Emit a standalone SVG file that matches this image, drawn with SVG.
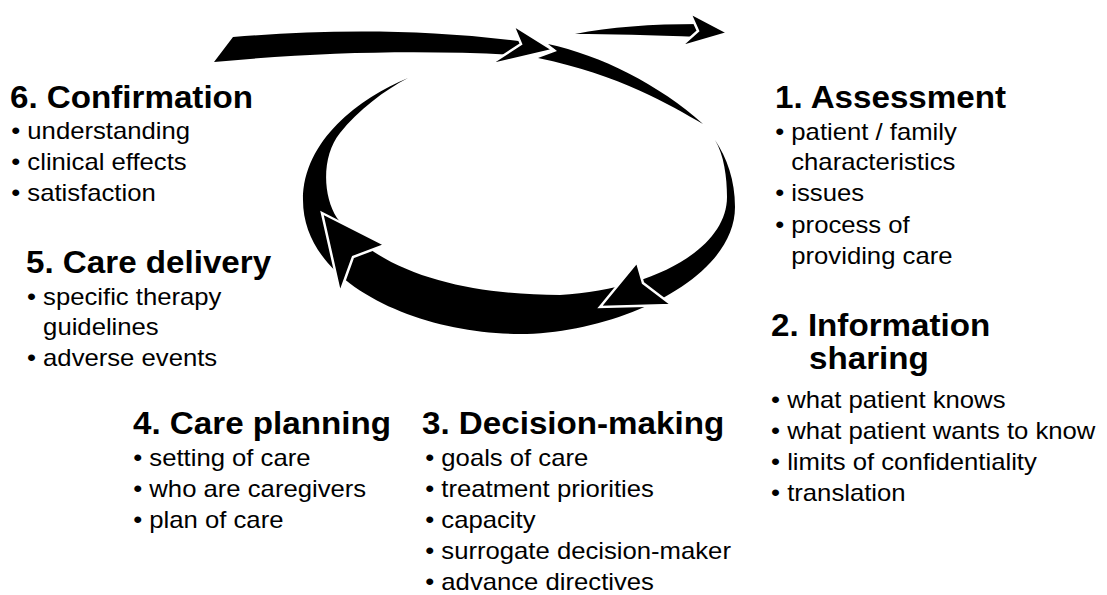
<svg xmlns="http://www.w3.org/2000/svg" width="1107" height="595" viewBox="0 0 1107 595">
<style>
.t{font-family:"Liberation Sans",Arial,sans-serif;font-weight:bold;font-size:31px;fill:#000}
.i{font-family:"Liberation Sans",Arial,sans-serif;font-size:24px;fill:#000}
.band{fill:#000}
.head{fill:#000;stroke:#fff;stroke-width:2.5;stroke-linejoin:miter}
</style>
<rect width="1107" height="595" fill="#fff"/>
<g id="connectors">
<path class="band" d="M 548,44 C 600,55 660,85 703,124 C 670,105 620,75 538,58 L 557,51 Z"/>
<path class="band" d="M 214,62 L 233,37 C 320,30 420,28 525,42 L 515,55 C 420,50 320,52 214,62 Z"/>
<path class="head" d="M 513,25 L 553,50 L 489,65 L 521,44 Z"/>
<path class="band" d="M 575,34 C 610,27 650,24 700,24 L 700,37 C 650,35 610,34 575,34 Z"/>
<path class="head" d="M 690,13 L 728,33 L 680,47 L 698,31 Z"/>
<path class="band" d="M 408,78 C 360,98 303,140 303,200 C 303,285 420,334 520,334 C 615,334 735,280 735,207 C 735,180 727,158 715,140 C 724,155 727,177 727,197 C 727,250 650,290 560,295 C 470,295 380,275 337,218 C 322,195 322,155 340,133 C 358,110 385,90 408,78 Z"/>
<path class="head" d="M 322,213 L 385,245 L 353,257 L 340,293 Z"/>
<path class="head" d="M 600,307 L 637,262 L 643,283 L 672,305 Z"/>
</g>
<g id="step6" transform="scale(1.07,1)">
<text class="t" x="9.3" y="108">6. Confirmation</text>
<text class="i" x="10.5" y="139">• understanding</text>
<text class="i" x="10.5" y="170">• clinical effects</text>
<text class="i" x="10.5" y="201">• satisfaction</text>
</g>
<g id="step5" transform="scale(1.07,1)">
<text class="t" x="24.3" y="273">5. Care delivery</text>
<text class="i" x="25.2" y="305">• specific therapy</text>
<text class="i" x="40.3" y="335">guidelines</text>
<text class="i" x="25.2" y="366">• adverse events</text>
</g>
<g id="step1" transform="scale(1.07,1)">
<text class="t" x="724.3" y="108">1. Assessment</text>
<text class="i" x="724.5" y="140">• patient / family</text>
<text class="i" x="739.5" y="170">characteristics</text>
<text class="i" x="724.5" y="201">• issues</text>
<text class="i" x="724.5" y="233">• process of</text>
<text class="i" x="739.5" y="264">providing care</text>
</g>
<g id="step2" transform="scale(1.07,1)">
<text class="t" x="720.6" y="336">2. Information</text>
<text class="t" x="756.1" y="369">sharing</text>
<text class="i" x="720.6" y="408">• what patient knows</text>
<text class="i" x="720.6" y="439">• what patient wants to know</text>
<text class="i" x="720.6" y="470">• limits of confidentiality</text>
<text class="i" x="720.6" y="501">• translation</text>
</g>
<g id="step4" transform="scale(1.07,1)">
<text class="t" x="124.3" y="434">4. Care planning</text>
<text class="i" x="124.5" y="466">• setting of care</text>
<text class="i" x="124.5" y="497">• who are caregivers</text>
<text class="i" x="124.5" y="528">• plan of care</text>
</g>
<g id="step3" transform="scale(1.07,1)">
<text class="t" x="394.4" y="434">3. Decision-making</text>
<text class="i" x="397.4" y="466">• goals of care</text>
<text class="i" x="397.4" y="497">• treatment priorities</text>
<text class="i" x="397.4" y="528">• capacity</text>
<text class="i" x="397.4" y="559">• surrogate decision-maker</text>
<text class="i" x="397.4" y="590">• advance directives</text>
</g>
</svg>
